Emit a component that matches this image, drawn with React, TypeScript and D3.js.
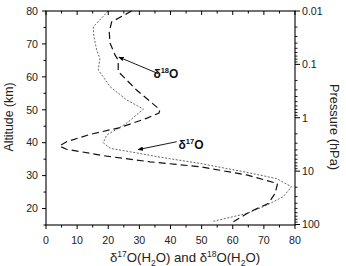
import React from "react";
import * as d3 from "d3";

// δ18O(H2O) — dashed curve (altitude km, value)
const d18Alt = [80, 76.7, 73.7, 70.2, 66.6, 65.1, 61.6, 56, 50, 49, 47.4, 44.6, 42.5, 40.3, 39, 38, 35.9, 34.2, 32.7, 30.2, 27.6, 24.6, 21.5, 19, 16];
const d18Val = [27.5, 21.1, 20.3, 20.6, 22.2, 23.2, 23.2, 29.1, 36.6, 36.3, 32.3, 23.8, 14.1, 6.6, 4.3, 6.6, 19.5, 33.4, 49.5, 64.5, 74.4, 73.6, 71.4, 65.5, 60.2];

// δ17O(H2O) — dotted curve
const d17Alt = [80, 75.2, 72.2, 68.1, 65.6, 62.1, 57, 53, 50.2, 45.9, 42.3, 40, 38.3, 36.9, 35.7, 33.7, 31.2, 29.1, 26.6, 23.6, 21, 18.5, 16];
const d17Val = [20, 15.2, 15.4, 16.3, 17.3, 16.8, 20.6, 25.9, 31.3, 25.9, 19.5, 18.4, 20.6, 29.1, 36, 49.5, 63.4, 74.1, 78.9, 76.2, 70.9, 64.5, 53.2];

const xTicks = [0, 10, 20, 30, 40, 50, 60, 70, 80];
const altTicks = [20, 30, 40, 50, 60, 70, 80];
const pTicks = [0.01, 0.1, 1, 10, 100];
const pTickLabels = ["0.01", "0.1", "1", "10", "100"];

const W = 346, H = 266;
const L = 46, R = 295, T = 11, B = 225;
const FONT = "'Liberation Sans', Arial, Helvetica, sans-serif";

export default function App() {
  const x = d3.scaleLinear().domain([0, 80]).range([L, R]);
  const y = d3.scaleLinear().domain([15, 80]).range([B, T]);
  const p = d3.scaleLog().domain([0.01, 100]).range([T, 224.5]);

  const line = d3.line<[number, number]>().x(d => x(d[0])).y(d => y(d[1]));
  const d18 = line(d18Val.map((v, i) => [v, d18Alt[i]] as [number, number])) || "";
  const d17 = line(d17Val.map((v, i) => [v, d17Alt[i]] as [number, number])) || "";

  const minorX = d3.range(0, 81, 5).filter(v => v % 10 !== 0);
  const minorAlt = d3.range(15, 81, 5).filter(v => v % 10 !== 0);
  const minorP: number[] = [];
  [0.01, 0.1, 1, 10].forEach(dec => { for (let k = 2; k <= 9; k++) minorP.push(dec * k); });

  const stroke = "#000";
  const TF = 10.6;
  return (
    <svg width={W} height={H} style={{ display: "block", position: "absolute", left: 0, top: 0 }} fontFamily={FONT}>
      <defs>
        <marker id="ah" viewBox="0 0 10 10" refX="9" refY="5" markerWidth="6" markerHeight="6" orient="auto">
          <path d="M0,1 L10,5 L0,9 z" fill="#000" />
        </marker>
      </defs>
      <rect x={0} y={0} width={W} height={H} fill="#fff" />
      {/* curves */}
      <path d={d17} fill="none" stroke="#555" strokeWidth={0.9} strokeDasharray="2,1.6" />
      <path d={d18} fill="none" stroke="#111" strokeWidth={1.2} strokeDasharray="7,4" />

      {/* frame */}
      <rect x={L} y={T} width={R - L} height={B - T} fill="none" stroke={stroke} strokeWidth={1.1} />

      {/* bottom axis */}
      {xTicks.map(v => (
        <g key={"bx" + v}>
          <line x1={x(v)} x2={x(v)} y1={B} y2={B + 4} stroke={stroke} strokeWidth={1} />
          <line x1={x(v)} x2={x(v)} y1={T} y2={T + 4} stroke={stroke} strokeWidth={1} />
          <text x={x(v)} y={B + 19} fontSize={TF} textAnchor="middle" fill="#222">{v}</text>
        </g>
      ))}
      {minorX.map(v => (
        <g key={"mx" + v}>
          <line x1={x(v)} x2={x(v)} y1={B} y2={B + 2.5} stroke={stroke} strokeWidth={1} />
          <line x1={x(v)} x2={x(v)} y1={T} y2={T + 2.5} stroke={stroke} strokeWidth={1} />
        </g>
      ))}

      {/* left axis */}
      {altTicks.map(v => (
        <g key={"ly" + v}>
          <line x1={L - 4} x2={L} y1={y(v)} y2={y(v)} stroke={stroke} strokeWidth={1} />
          <text x={L - 8} y={y(v) + 3.8} fontSize={TF} textAnchor="end" fill="#222">{v}</text>
        </g>
      ))}
      {minorAlt.map(v => (
        <line key={"my" + v} x1={L - 2.5} x2={L} y1={y(v)} y2={y(v)} stroke={stroke} strokeWidth={1} />
      ))}

      {/* right axis */}
      {pTicks.map((v, i) => (
        <g key={"rp" + v}>
          <line x1={R} x2={R + 5} y1={p(v)} y2={p(v)} stroke={stroke} strokeWidth={1} />
          <text x={R + 7} y={p(v) + 3.8} fontSize={TF} textAnchor="start" fill="#222">{pTickLabels[i]}</text>
        </g>
      ))}
      {minorP.map(v => (
        <line key={"mp" + v} x1={R} x2={R + 2.5} y1={p(v)} y2={p(v)} stroke={stroke} strokeWidth={0.9} />
      ))}

      {/* axis titles */}
      <text transform={`translate(13,${(T + B) / 2 - 1}) rotate(-90)`} fontSize={12.3} textAnchor="middle" fill="#222">Altitude (km)</text>
      <text transform={`translate(330,${(T + B) / 2 + 9}) rotate(90)`} fontSize={12.8} textAnchor="middle" fill="#222">Pressure (hPa)</text>
      <text x={185} y={262} fontSize={13.2} textAnchor="middle" fill="#222">
        δ<tspan dy={-5} fontSize={8.5}>17</tspan><tspan dy={5}>O(H</tspan><tspan dy={3.5} fontSize={8.5}>2</tspan><tspan dy={-3.5}>O) and δ</tspan><tspan dy={-5} fontSize={8.5}>18</tspan><tspan dy={5}>O(H</tspan><tspan dy={3.5} fontSize={8.5}>2</tspan><tspan dy={-3.5}>O)</tspan>
      </text>

      {/* annotations */}
      <line x1={x(36)} y1={y(61)} x2={x(23.4)} y2={y(66)} stroke="#000" strokeWidth={0.9} markerEnd="url(#ah)" />
      <text x={x(34.5)} y={y(59.5)} fontSize={12} fontWeight="bold" fill="#111">
        δ<tspan dy={-5} fontSize={7.5}>18</tspan><tspan dy={5}>O</tspan>
      </text>
      <line x1={x(42)} y1={y(40.3)} x2={x(29.6)} y2={y(37.9)} stroke="#000" strokeWidth={0.9} markerEnd="url(#ah)" />
      <text x={x(42.6)} y={y(38)} fontSize={12} fontWeight="bold" fill="#111">
        δ<tspan dy={-5} fontSize={7.5}>17</tspan><tspan dy={5}>O</tspan>
      </text>
    </svg>
  );
}
